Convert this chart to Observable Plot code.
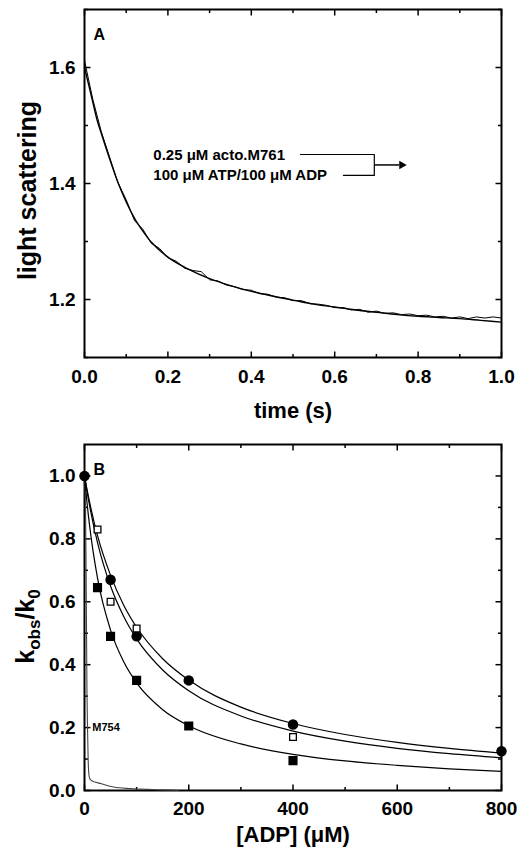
<!DOCTYPE html>
<html><head><meta charset="utf-8">
<script src="https://cdn.jsdelivr.net/npm/d3@7"></script>
<script src="https://cdn.jsdelivr.net/npm/@observablehq/plot@0.6"></script>
<style>
body{margin:0;background:#fff;}
#chart{width:517px;}
#chart svg{display:block;}
</style></head><body><div id="chart"></div>
<script>
// ---- Panel A: light scattering vs time ----
const timeFit = [0,0.01,0.02,0.03,0.04,0.06,0.08,0.10,0.12,0.14,0.16,0.18,0.20,0.25,0.30,0.35,0.40,0.45,0.50,0.55,0.60,0.65,0.70,0.75,0.80,0.85,0.90,0.95,1.0];
const scatterFit = [1.600,1.570,1.540,1.510,1.487,1.443,1.402,1.368,1.340,1.318,1.299,1.285,1.273,1.252,1.236,1.224,1.214,1.206,1.199,1.192,1.187,1.182,1.178,1.174,1.171,1.169,1.167,1.164,1.161];
const timeTrace = [0,0.02,0.04,0.06,0.08,0.10,0.12,0.14,0.16,0.18,0.20,0.22,0.24,0.26,0.28,0.30,0.32,0.34,0.36,0.38,0.40,0.42,0.44,0.46,0.48,0.50,0.52,0.54,0.56,0.58,0.60,0.62,0.64,0.66,0.68,0.70,0.72,0.74,0.76,0.78,0.80,0.82,0.84,0.86,0.88,0.90,0.92,0.94,0.96,0.98,1.00];
const scatterTrace = [1.612,1.545,1.490,1.446,1.402,1.372,1.336,1.321,1.297,1.288,1.272,1.266,1.254,1.250,1.248,1.234,1.232,1.225,1.222,1.217,1.216,1.210,1.209,1.204,1.203,1.198,1.198,1.193,1.192,1.190,1.186,1.186,1.182,1.183,1.178,1.180,1.176,1.177,1.174,1.175,1.172,1.173,1.170,1.171,1.168,1.170,1.167,1.170,1.168,1.170,1.168];
const xTicksA = [0,0.2,0.4,0.6,0.8,1.0];
const xMinorA = [0.1,0.3,0.5,0.7,0.9];
const yTicksA = [1.2,1.4,1.6];
const yMinorA = [1.1,1.3,1.5,1.7];
const noteLines = ["0.25 μM acto.M761","100 μM ATP/100 μM ADP"];
const noteY = [1.448,1.414];

// ---- Panel B: kobs/k0 vs [ADP] ----
const adpCircles = [0,50,100,200,400,800];
const kCircles = [1.0,0.67,0.49,0.35,0.21,0.125];
const adpOpenSq = [25,50,100,400];
const kOpenSq = [0.83,0.60,0.515,0.17];
const adpFilledSq = [25,50,100,200,400];
const kFilledSq = [0.645,0.49,0.35,0.205,0.095];
const adpCurve = [0,5,10,25,50,75,100,150,200,300,400,500,600,700,800];
const kCurveCircles = [1,0.956,0.915,0.81,0.684,0.59,0.519,0.419,0.351,0.265,0.213,0.178,0.153,0.134,0.119];
const kCurveOpen = [1,0.949,0.903,0.788,0.65,0.554,0.482,0.383,0.317,0.237,0.189,0.157,0.134,0.117,0.104];
const kCurveFilled = [1,0.912,0.839,0.675,0.51,0.41,0.342,0.257,0.206,0.148,0.115,0.094,0.08,0.069,0.061];
const adpM754 = [0,2,3.5,4.8,5.8,7,8.5,10,13,20,31,56,88,130,180];
const kM754 = [1,0.9,0.6,0.3,0.2,0.1,0.05,0.038,0.032,0.027,0.022,0.011,0.006,0.003,0.001];
const xTicksB = [0,200,400,600,800];
const xMinorB = [100,300,500,700];
const yTicksB = [0,0.2,0.4,0.6,0.8,1.0];
const yMinorB = [0.1,0.3,0.5,0.7,0.9];

const FONT = "Liberation Sans, Arial, Helvetica, sans-serif";
const W = 517, ML = 84, MR = 16;
const innerW = W - ML - MR;

// inward ticks on all four sides, built as tick records for Plot.link
function frameTicks(xDom, yDom, xMaj, xMin, yMaj, yMin, innerH) {
  const maj = 6, mnr = 3.5;
  const dy = p => p * (yDom[1] - yDom[0]) / innerH;
  const dx = p => p * (xDom[1] - xDom[0]) / innerW;
  const segs = [];
  for (const [arr, len] of [[xMaj, maj], [xMin, mnr]]) for (const v of arr) {
    segs.push({x1: v, x2: v, y1: yDom[0], y2: yDom[0] + dy(len)});
    segs.push({x1: v, x2: v, y1: yDom[1], y2: yDom[1] - dy(len)});
  }
  for (const [arr, len] of [[yMaj, maj], [yMin, mnr]]) for (const v of arr) {
    segs.push({y1: v, y2: v, x1: xDom[0], x2: xDom[0] + dx(len)});
    segs.push({y1: v, y2: v, x1: xDom[1], x2: xDom[1] - dx(len)});
  }
  return [
    Plot.link(segs, {x1: "x1", x2: "x2", y1: "y1", y2: "y2", stroke: "black", strokeWidth: 1.5}),
    Plot.frame({stroke: "black", strokeWidth: 2})
  ];
}

// Panel A
const HA = 430, MTA = 9, MBA = 73;
const xDomA = [0, 1], yDomA = [1.1, 1.7];
const fitA = timeFit.map((t, i) => ({t, v: scatterFit[i]}));
const traceA = timeTrace.map((t, i) => ({t, v: scatterTrace[i]}));
const notes = noteLines.map((s, i) => ({s, y: noteY[i]}));
const bracket = [{x: 0.518, y: 1.450}, {x: 0.695, y: 1.450}, {x: 0.695, y: 1.414}, {x: 0.621, y: 1.414}];
const arrowTip = [{x: 0.768, y: 1.432}];

const plotA = Plot.plot({
  width: W, height: HA, marginTop: MTA, marginBottom: MBA, marginLeft: ML, marginRight: MR,
  style: {fontFamily: FONT, fontWeight: "bold", background: "white", color: "black"},
  x: {domain: xDomA, axis: null},
  y: {domain: yDomA, axis: null},
  marks: [
    ...frameTicks(xDomA, yDomA, xTicksA, xMinorA, yTicksA, yMinorA, HA - MTA - MBA),
    Plot.axisX({ticks: xTicksA, tickSize: 0, tickPadding: 12, tickFormat: d => d.toFixed(1), label: null, fontSize: 19, fontWeight: "bold"}),
    Plot.axisY({ticks: yTicksA, tickSize: 0, tickPadding: 9, tickFormat: d => d.toFixed(1), label: null, fontSize: 19, fontWeight: "bold"}),
    Plot.line(traceA, {x: "t", y: "v", stroke: "black", strokeWidth: 1}),
    Plot.line(fitA, {x: "t", y: "v", curve: "monotone-x", stroke: "black", strokeWidth: 1.4}),
    Plot.text(notes, {x: () => 0.165, y: "y", text: "s", textAnchor: "start", fontSize: 15, fontWeight: "bold"}),
    Plot.line(bracket, {x: "x", y: "y", stroke: "black", strokeWidth: 1.2}),
    Plot.link([{x1: 0.695, y1: 1.432, x2: 0.755, y2: 1.432}], {x1: "x1", y1: "y1", x2: "x2", y2: "y2", stroke: "black", strokeWidth: 1.5}),
    Plot.dot(arrowTip, {x: "x", y: "y", symbol: "triangle", rotate: 90, r: 3.2, dx: -3, fill: "black"}),
    Plot.text(["A"], {frameAnchor: "top-left", dx: 9, dy: 19, fontSize: 16, fontWeight: "bold"}),
    Plot.text(["time (s)"], {frameAnchor: "bottom", dy: 60, fontSize: 22, fontWeight: "bold"}),
    Plot.text(["light scattering"], {frameAnchor: "left", textAnchor: "middle", rotate: -90, dx: -57, dy: 7, fontSize: 25, fontWeight: "bold"})
  ]
});

// Panel B
const HB = 422, MTB = 14, MBB = 62;
const xDomB = [0, 800], yDomB = [0, 1.1];
const mk = (xs, ys) => xs.map((x, i) => ({x, y: ys[i]}));
const plotB = Plot.plot({
  width: W, height: HB, marginTop: MTB, marginBottom: MBB, marginLeft: ML, marginRight: MR,
  style: {fontFamily: FONT, fontWeight: "bold", background: "white", color: "black"},
  x: {domain: xDomB, axis: null},
  y: {domain: yDomB, axis: null},
  marks: [
    ...frameTicks(xDomB, yDomB, xTicksB, xMinorB, yTicksB, yMinorB, HB - MTB - MBB),
    Plot.axisX({ticks: xTicksB, tickSize: 0, tickPadding: 11, tickFormat: d => String(d), label: null, fontSize: 19, fontWeight: "bold"}),
    Plot.axisY({ticks: yTicksB, tickSize: 0, tickPadding: 9, tickFormat: d => d.toFixed(1), label: null, fontSize: 19, fontWeight: "bold"}),
    Plot.line(mk(adpM754, kM754), {x: "x", y: "y", curve: "monotone-x", stroke: "#444", strokeWidth: 1.1}),
    Plot.line(mk(adpCurve, kCurveCircles), {x: "x", y: "y", curve: "monotone-x", stroke: "black", strokeWidth: 1.2}),
    Plot.line(mk(adpCurve, kCurveOpen), {x: "x", y: "y", curve: "monotone-x", stroke: "black", strokeWidth: 1.2}),
    Plot.line(mk(adpCurve, kCurveFilled), {x: "x", y: "y", curve: "monotone-x", stroke: "black", strokeWidth: 1.2}),
    Plot.dot(mk(adpCircles, kCircles), {x: "x", y: "y", r: 4.5, fill: "black", stroke: "black"}),
    Plot.dot(mk(adpOpenSq, kOpenSq), {x: "x", y: "y", r: 3.8, symbol: "square", fill: "white", stroke: "black", strokeWidth: 1.3}),
    Plot.dot(mk(adpFilledSq, kFilledSq), {x: "x", y: "y", r: 4.3, symbol: "square", fill: "black", stroke: "black"}),
    Plot.text(["M754"], {x: () => 15, y: () => 0.2, textAnchor: "start", fontSize: 11, fontWeight: "bold"}),
    Plot.text(["B"], {frameAnchor: "top-left", dx: 9, dy: 19, fontSize: 16, fontWeight: "bold"}),
    Plot.text(["[ADP] (μM)"], {frameAnchor: "bottom", dy: 51, fontSize: 22, fontWeight: "bold"}),
    Plot.text(["kobs/k0"], {frameAnchor: "left", textAnchor: "middle", rotate: -90, dx: -59, dy: 9, fontSize: 25, fontWeight: "bold"})
  ]
});

// subscripts in the y title of panel B
const kEl = [...plotB.querySelectorAll("text")].find(t => t.textContent === "kobs/k0");
if (kEl) {
  while (kEl.firstChild) kEl.removeChild(kEl.firstChild);
  const ns = "http://www.w3.org/2000/svg";
  const parts = [["k", 0, 25], ["obs", 6, 17], ["/k", -6, 25], ["0", 6, 17]];
  for (const [s, dy, fs] of parts) {
    const sp = document.createElementNS(ns, "tspan");
    sp.setAttribute("dy", dy);
    sp.setAttribute("font-size", fs);
    sp.textContent = s;
    kEl.appendChild(sp);
  }
}

const chart = document.getElementById("chart");
chart.appendChild(plotA);
chart.appendChild(plotB);
</script>
</body></html>
